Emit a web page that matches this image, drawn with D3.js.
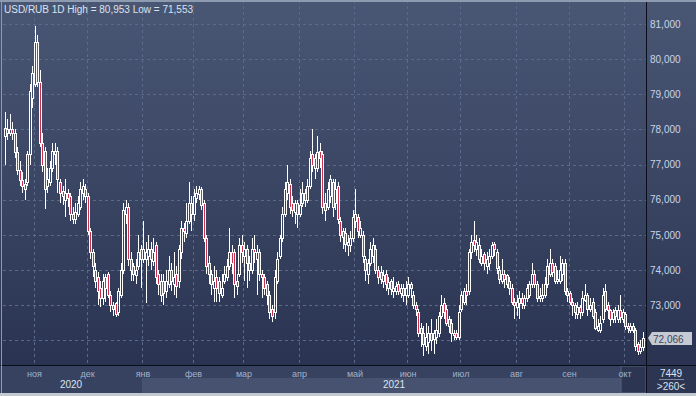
<!DOCTYPE html>
<html>
<head>
<meta charset="utf-8">
<script src="https://cdn.jsdelivr.net/npm/d3@7"></script>
<style>
  body { margin: 0; background: #2b3553; }
  svg { display: block; font-family: "Liberation Sans", Arial, sans-serif; }
</style>
</head>
<body>
<svg id="chart" width="696" height="396"></svg>
<script>
// USD/RUB daily candles, mid Oct 2020 .. mid Oct 2021
var opens = [77.8,78.0,77.9,78.0,77.9,77.35,76.85,76.55,76.45,76.5,77.3,78.9,79.3,80.5,79.35,77.6,77.4,76.4,76.5,76.9,
  77.4,77.4,76.5,76.25,76.0,76.2,76.1,75.6,75.45,75.6,75.8,76.2,76.3,76.1,75.1,74.5,74.0,73.8,73.5,73.2,
  73.8,73.9,73.3,73.0,73.05,72.8,73.3,74.0,75.6,75.8,74.3,74.1,73.85,74.1,74.6,74.3,74.3,74.4,74.6,74.25,
  74.7,73.9,73.7,73.7,73.4,73.6,74.0,73.6,73.9,73.7,74.5,75.2,75.05,75.4,75.9,75.6,76.05,76.15,76.3,75.9,
  74.9,74.2,73.9,73.5,73.8,73.7,73.3,73.7,73.8,74.1,74.5,74.5,73.7,73.9,74.7,74.4,74.6,74.2,74.0,74.6,
  74.3,74.5,73.9,73.8,73.6,73.3,72.9,72.8,73.7,74.4,74.9,75.6,76.2,76.45,75.9,75.65,75.9,75.6,75.9,76.2,
  76.0,76.4,77.3,77.2,76.9,77.4,77.3,75.9,75.8,76.1,76.5,75.9,76.4,75.4,75.1,75.05,74.7,74.7,74.9,75.4,
  75.5,75.0,75.0,74.3,73.9,74.2,74.4,74.6,74.0,73.95,73.7,73.9,73.5,73.7,73.4,73.4,73.6,73.35,73.5,73.3,
  73.3,73.6,73.3,73.0,72.8,72.35,72.2,71.85,71.95,72.2,72.05,72.1,72.2,72.7,73.05,72.9,72.6,72.5,72.2,72.2,
  72.1,72.9,73.1,73.4,73.4,74.5,74.85,74.6,74.7,74.2,74.45,74.1,74.2,74.4,74.75,74.5,74.0,73.7,73.9,73.85,
  73.7,73.5,73.1,72.95,73.05,73.2,73.0,73.2,73.3,73.6,73.9,73.6,73.2,73.2,73.3,73.6,73.9,74.2,74.1,73.7,
  73.7,73.9,74.2,73.4,73.35,73.1,73.0,72.75,72.95,72.8,73.15,73.3,72.9,73.1,72.8,72.3,72.3,72.6,73.4,73.0,
  72.85,72.6,72.85,72.6,72.85,72.6,72.75,72.4,72.3,72.4,72.3,71.9,71.7,71.8];
var highs = [78.5,78.3,78.45,78.2,78.0,77.5,77.1,76.8,76.6,77.4,79.3,79.8,80.953,80.7,79.7,77.9,77.5,76.9,77.1,77.6,
  77.6,77.5,76.6,76.4,76.6,76.3,76.2,75.8,75.9,76.1,76.5,76.6,76.45,76.2,75.2,74.6,74.2,73.95,73.7,73.9,
  73.9,73.95,73.4,73.1,73.1,73.5,74.2,75.9,76.0,75.9,74.5,74.2,74.3,75.0,74.7,75.4,74.8,75.0,74.8,74.9,
  74.8,74.0,73.9,73.9,74.0,74.4,74.2,74.5,74.1,74.7,75.4,75.35,75.9,76.5,76.1,76.3,76.4,76.4,76.35,76.0,
  75.0,74.4,74.0,74.1,74.0,73.8,73.9,74.1,74.3,75.2,74.7,74.6,73.9,74.9,75.0,74.8,74.7,74.4,74.9,75.0,
  74.7,74.6,74.0,73.9,73.7,73.4,73.0,74.0,74.5,75.0,75.8,76.5,77.0,76.6,76.1,76.0,76.0,76.3,76.5,76.3,
  76.6,77.4,78.0,77.3,77.8,77.6,77.4,76.2,76.5,76.7,76.6,76.6,76.5,75.5,75.2,75.2,75.0,75.1,75.7,76.3,
  75.6,75.4,75.1,74.4,74.3,74.8,74.9,74.7,74.1,74.1,74.0,74.0,73.8,73.75,73.8,73.65,73.7,73.6,73.6,73.7,
  73.8,73.65,73.4,73.1,72.9,72.5,72.4,72.5,72.4,72.6,72.3,72.6,72.8,73.3,73.2,73.0,72.7,72.6,72.3,72.3,
  73.0,73.4,73.5,73.6,74.6,75.0,75.4,75.0,74.9,74.6,74.5,74.5,74.6,74.8,74.8,74.6,74.1,74.3,74.0,73.9,
  73.8,73.6,73.2,73.3,73.4,73.35,73.3,73.6,73.7,74.2,74.0,73.7,73.5,73.6,73.8,74.3,74.6,74.3,74.2,74.0,
  74.4,74.3,74.3,73.5,73.4,73.2,73.05,73.1,73.0,73.4,73.6,73.35,73.2,73.2,72.9,72.6,72.7,73.5,73.6,73.1,
  72.9,72.9,72.95,73.0,73.3,72.9,72.8,72.5,72.5,72.5,72.35,71.95,72.0,72.25];
var lows = [77.0,77.7,77.8,77.7,77.2,76.7,76.4,76.2,76.0,76.4,77.0,78.6,79.2,79.2,77.5,76.8,75.75,76.2,76.4,76.8,
  77.0,76.2,75.9,75.85,75.5,75.8,75.4,75.3,75.3,75.5,75.7,76.0,75.9,75.0,74.3,73.8,73.5,73.0,72.95,73.0,
  73.1,73.2,72.8,72.7,72.67,72.7,73.2,73.9,75.3,74.1,73.7,73.7,73.6,74.0,73.5,74.2,73.05,74.1,74.0,74.1,
  73.6,73.3,73.1,73.0,73.2,73.5,73.4,73.3,73.2,73.5,74.3,74.8,74.9,75.3,75.1,75.4,75.9,76.0,75.7,74.8,
  73.9,73.6,73.3,73.1,73.1,73.1,73.2,73.6,73.7,74.0,73.9,73.2,73.3,73.8,74.2,73.7,73.5,73.7,73.9,74.2,
  73.3,73.7,73.2,73.3,73.0,72.6,72.53,72.6,73.6,74.3,74.8,75.5,76.0,75.6,75.5,75.3,75.2,75.5,75.8,75.8,
  75.9,76.3,76.8,76.6,76.8,76.9,75.6,75.4,75.7,75.9,75.5,75.7,75.3,74.8,74.6,74.5,74.4,74.5,74.8,75.2,
  74.9,74.9,74.2,73.7,73.6,74.1,74.2,73.9,73.6,73.6,73.5,73.4,73.3,73.3,73.2,73.3,73.3,73.2,73.1,73.0,
  73.2,73.2,72.9,72.7,72.1,71.8,71.553,71.7,71.6,71.7,71.6,71.9,72.1,72.6,72.6,72.4,72.2,71.95,72.0,72.0,
  72.0,72.8,73.0,73.0,73.3,74.3,74.5,74.4,74.2,74.1,74.0,73.9,74.0,74.3,74.4,73.9,73.6,73.6,73.5,73.5,
  73.3,73.0,72.6,72.7,72.6,72.9,72.9,73.1,73.2,73.5,73.5,73.1,73.1,73.1,73.2,73.5,73.8,73.8,73.6,73.6,
  73.6,73.7,73.3,73.1,73.0,72.7,72.6,72.6,72.6,72.7,73.1,72.7,72.8,72.6,72.3,72.25,72.2,72.5,72.8,72.6,
  72.4,72.5,72.5,72.5,72.5,72.5,72.3,72.2,72.2,72.2,71.7,71.57,71.6,71.7];
var closes = [78.05,77.9,78.0,77.9,77.35,76.85,76.55,76.4,76.3,77.3,79.1,79.6,80.5,79.35,77.6,77.0,76.3,76.6,76.9,77.4,
  77.3,76.6,76.2,76.1,76.2,76.05,75.6,75.45,75.65,75.9,76.3,76.4,76.1,75.1,74.5,74.1,73.7,73.4,73.2,73.7,
  73.5,73.3,73.0,72.9,72.75,73.4,74.0,75.7,75.8,74.3,74.0,73.9,74.0,74.5,74.3,74.6,74.5,74.6,74.3,74.5,
  73.8,73.6,73.3,73.35,73.7,74.0,73.7,73.8,73.55,74.6,75.2,75.1,75.4,75.9,75.6,76.1,76.2,76.3,75.85,74.9,
  74.1,73.9,73.6,73.7,73.5,73.35,73.5,73.9,74.1,74.5,74.2,73.6,73.55,74.7,74.5,74.6,74.2,74.0,74.6,74.5,
  74.5,73.9,73.8,73.5,73.3,72.8,72.7,73.8,74.3,74.9,75.6,76.3,76.5,75.8,75.7,75.9,75.6,75.85,76.2,76.0,
  76.4,77.2,77.0,76.9,77.35,77.2,75.8,75.7,76.3,76.6,75.8,76.3,75.45,75.0,74.95,74.75,74.8,74.9,75.5,75.6,
  75.1,75.2,74.4,74.0,74.2,74.6,74.7,74.0,73.8,73.75,73.85,73.6,73.65,73.45,73.5,73.55,73.4,73.5,73.3,73.5,
  73.6,73.5,73.0,72.9,72.2,72.2,71.9,72.1,72.2,72.0,72.2,72.3,72.7,73.0,72.8,72.5,72.4,72.2,72.15,72.1,
  72.8,73.3,73.4,73.3,74.5,74.8,74.7,74.8,74.3,74.4,74.2,74.3,74.4,74.7,74.6,74.05,73.75,73.9,73.75,73.6,
  73.5,73.1,73.0,73.1,73.2,73.05,73.2,73.5,73.6,73.9,73.6,73.2,73.25,73.3,73.6,74.1,74.2,73.95,73.7,73.75,
  74.0,74.2,73.4,73.3,73.1,73.0,72.8,72.95,72.8,73.2,73.3,72.9,73.0,72.7,72.35,72.4,72.5,73.3,72.9,72.85,
  72.6,72.8,72.7,72.85,72.65,72.8,72.4,72.35,72.4,72.3,71.85,71.7,71.8,72.066];

var monthLabels = ["ноя","дек","янв","фев","мар","апр","май","июн","июл","авг","сен","окт"];
var monthStarts = [12, 33, 55, 75, 95, 117, 139, 160, 181, 203, 224, 246];
var yearLabels = ["2020", "2021"];
var yearStarts = [0, 55];
var priceTicks = [72, 73, 74, 75, 76, 77, 78, 79, 80, 81];

var W = 696, H = 396;
var plotL = 3, plotR = 646, plotB = 365, axisB = 393;

var ru = d3.formatLocale({decimal: ",", thousands: " ", grouping: [3], currency: ["", ""]});
var fmt = ru.format(".3f");

var svg = d3.select("#chart");
var defs = svg.append("defs");
var grad = defs.append("linearGradient").attr("id", "bg").attr("x1", 0).attr("y1", 0).attr("x2", 0).attr("y2", 1);
grad.append("stop").attr("offset", "0%").attr("stop-color", "#4a5774");
grad.append("stop").attr("offset", "100%").attr("stop-color", "#2a3452");
defs.append("clipPath").attr("id", "plotclip").append("rect")
  .attr("x", plotL).attr("y", 0).attr("width", plotR - plotL).attr("height", plotB);

svg.append("rect").attr("width", W).attr("height", plotB).attr("fill", "url(#bg)");

var n = closes.length;
var x = d3.scaleLinear().domain([0, n - 1]).range([4.5, 643]);
var y = d3.scaleLinear().domain([72, 81]).range([340.3, 24]);
var step = x(1) - x(0);

// grid
var grid = svg.append("g").attr("stroke", "#5b6a89").attr("stroke-dasharray", "3,3").attr("shape-rendering", "crispEdges");
grid.selectAll(".hg").data(priceTicks).enter().append("line")
  .attr("x1", plotL).attr("x2", plotR)
  .attr("y1", function(d){ return Math.round(y(d)) + 0.5; })
  .attr("y2", function(d){ return Math.round(y(d)) + 0.5; });
grid.selectAll(".vg").data(monthStarts).enter().append("line")
  .attr("y1", 0).attr("y2", plotB)
  .attr("x1", function(d){ return Math.round(x(d) - step / 2) + 0.5; })
  .attr("x2", function(d){ return Math.round(x(d) - step / 2) + 0.5; });

// candles
var idx = d3.range(n);
var cg = svg.append("g").attr("clip-path", "url(#plotclip)").attr("shape-rendering", "crispEdges");
var cx = function(i){ return Math.round(x(i)); };
var bodyTop = function(i){ return Math.round(y(Math.max(opens[i], closes[i]))); };
var bodyBot = function(i){ return Math.max(Math.round(y(Math.min(opens[i], closes[i]))), bodyTop(i) + 1); };

cg.selectAll(".wickHi").data(idx).enter().append("line")
  .attr("x1", function(i){ return cx(i) + 0.5; }).attr("x2", function(i){ return cx(i) + 0.5; })
  .attr("y1", function(i){ return Math.round(y(highs[i])); })
  .attr("y2", function(i){ return bodyTop(i); })
  .attr("stroke", "#ffffff");
cg.selectAll(".wickLo").data(idx).enter().append("line")
  .attr("x1", function(i){ return cx(i) + 0.5; }).attr("x2", function(i){ return cx(i) + 0.5; })
  .attr("y1", function(i){ return bodyBot(i); })
  .attr("y2", function(i){ return Math.round(y(lows[i])); })
  .attr("stroke", "#ffffff");
cg.selectAll(".body").data(idx).enter().append("rect")
  .attr("x", function(i){ return cx(i) - 0.5; })
  .attr("width", 2)
  .attr("y", function(i){ return bodyTop(i) + 0.5; })
  .attr("height", function(i){ return bodyBot(i) - bodyTop(i); })
  .attr("fill", function(i){ return closes[i] < opens[i] ? "#c8324f" : "none"; })
  .attr("stroke", "#ffffff").attr("stroke-width", 1);

// bottom axis band
svg.append("rect").attr("x", 0).attr("y", plotB).attr("width", W).attr("height", axisB - plotB).attr("fill", "#36425f");
svg.selectAll(".yearband").data(yearStarts).enter().append("rect")
  .attr("x", function(d, i){ return i === 0 ? 0 : Math.round(x(d) - step / 2); })
  .attr("y", 378).attr("height", axisB - 378)
  .attr("width", function(d, i){
    var a = i === 0 ? 0 : Math.round(x(d) - step / 2);
    var b = i + 1 < yearStarts.length ? Math.round(x(yearStarts[i + 1]) - step / 2) : plotR;
    return b - a;
  })
  .attr("fill", function(d, i){ return i === 0 ? "#36425f" : "#46526f"; });
// highlighted current month
svg.append("rect").attr("x", Math.round(x(monthStarts[monthStarts.length - 1]) - step / 2) - 3)
  .attr("y", plotB + 1).attr("width", plotR - Math.round(x(monthStarts[monthStarts.length - 1]) - step / 2) + 3)
  .attr("height", axisB - plotB - 1).attr("fill", "#2c3652").attr("stroke", "#56627c").attr("stroke-width", 1);

svg.selectAll(".mlab").data(monthStarts).enter().append("text")
  .attr("x", function(d){ return x(d) - step / 2 + 1; })
  .attr("y", 377).attr("text-anchor", "middle")
  .attr("font-size", 9).attr("fill", "#a3b2cb")
  .text(function(d, i){ return monthLabels[i]; });
svg.selectAll(".ylab").data(yearStarts).enter().append("text")
  .attr("x", function(d, i){
    var a = i === 0 ? 0 : x(d) - step / 2;
    var b = i + 1 < yearStarts.length ? x(yearStarts[i + 1]) - step / 2 : plotR;
    return (a + b) / 2;
  })
  .attr("y", 388).attr("text-anchor", "middle")
  .attr("font-size", 10).attr("fill", "#dde4f0")
  .text(function(d, i){ return yearLabels[i]; });

// right price axis
svg.append("rect").attr("x", plotR).attr("y", plotB).attr("width", W - plotR).attr("height", axisB - plotB).attr("fill", "#2c3652");
var yAxis = d3.axisRight(y).tickValues(priceTicks.slice(1)).tickSize(0).tickPadding(4).tickFormat(fmt);
var ya = svg.append("g").attr("transform", "translate(" + plotR + ",0)").call(yAxis);
ya.select(".domain").remove();
ya.selectAll("text").attr("font-size", 10).attr("fill", "#c9d4e8").attr("font-family", "Liberation Sans, Arial, sans-serif");

// frame lines
svg.append("line").attr("x1", 0).attr("x2", W).attr("y1", plotB + 0.5).attr("y2", plotB + 0.5).attr("stroke", "#0a0e18");
svg.append("line").attr("x1", plotR + 0.5).attr("x2", plotR + 0.5).attr("y1", 0).attr("y2", axisB).attr("stroke", "#0a0e18");
svg.append("rect").attr("x", 0).attr("y", 0).attr("width", W).attr("height", 2).attr("fill", "#8e9ab0");
svg.append("rect").attr("x", 0).attr("y", axisB).attr("width", W).attr("height", H - axisB).attr("fill", "#c3c9d3");
svg.append("line").attr("x1", 1.5).attr("x2", 1.5).attr("y1", 2).attr("y2", axisB).attr("stroke", "#8e9ab0");

// last price marker
var last = closes[n - 1];
var ly = Math.round(y(last));
svg.append("path")
  .attr("d", "M" + (plotR + 2) + "," + ly + "L" + (plotR + 6) + "," + (ly - 6) + "H692V" + (ly + 7) + "H" + (plotR + 6) + "Z")
  .attr("fill", "#c6cad2");
svg.append("text").attr("x", plotR + 7).attr("y", ly + 4.5)
  .attr("font-size", 10).attr("fill", "#3c465c").text(fmt(last));

// counters in corner
svg.append("text").attr("x", 671).attr("y", 377).attr("text-anchor", "middle").attr("font-size", 10).attr("fill", "#dde4f0").text("7449");
svg.append("line").attr("x1", 659).attr("x2", 684).attr("y1", 379.5).attr("y2", 379.5).attr("stroke", "#7f8aa0");
svg.append("text").attr("x", 671).attr("y", 390).attr("text-anchor", "middle").attr("font-size", 10).attr("fill", "#dde4f0").text(">260<");

// title
svg.append("text").attr("x", 4).attr("y", 13).attr("font-size", 10).attr("fill", "#dbe2ee")
  .text("USD/RUB 1D High = " + fmt(d3.max(highs)) + " Low = " + fmt(d3.min(lows)));
</script>
</body>
</html>
